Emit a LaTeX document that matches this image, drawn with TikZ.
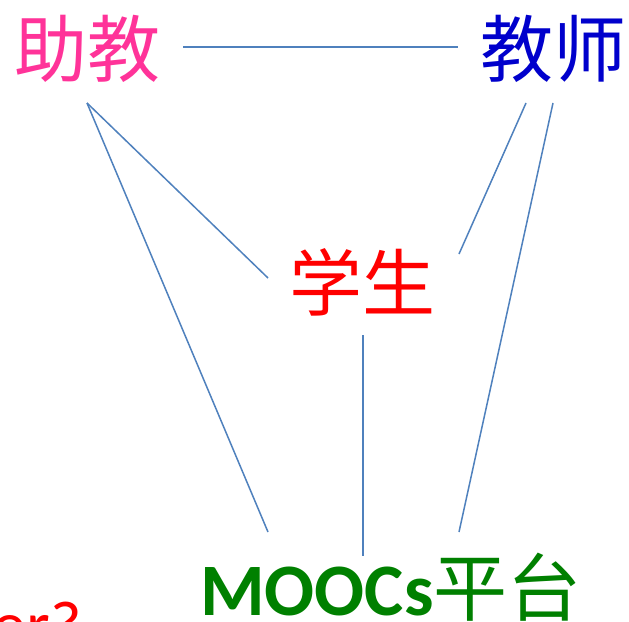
\documentclass[tikz,border=0pt]{standalone}
\usepackage{fontspec}
\setmainfont{Carlito}
\newfontfamily\cjk{Noto Sans CJK SC}
\definecolor{lnblue}{HTML}{4F81BD}
\definecolor{tpink}{HTML}{FF3399}
\definecolor{tblue}{HTML}{0000CC}
\definecolor{tred}{HTML}{FF0000}
\definecolor{tgreen}{HTML}{008000}
\tikzset{
  lbl/.style={inner sep=0pt, font=\cjk\fontsize{73}{73}\selectfont},
  link/.style={draw=lnblue, line width=1.5pt}
}
\begin{document}
\begin{tikzpicture}[x=1pt,y=-1pt]
\useasboundingbox (0,0) rectangle (629,621);
\clip (0,0) rectangle (629,621);
\fill[white] (0,0) rectangle (629,621);
\node[lbl, text=tpink] (zj) at (87,49) {助教};
\node[lbl, text=tblue] (js) at (553,49) {教师};
\node[lbl, text=tred] (xs) at (362,282) {学生};
\node[inner sep=0pt, anchor=base west, text=tgreen] (mp) at (200,615)
  {\fontsize{74}{74}\selectfont{\bfseries MOOCs}{\cjk\mdseries 平台}};
\node[inner sep=0pt, anchor=base east, text=tred] (er) at (82,648)
  {\fontsize{68}{68}\selectfont er?};
\coordinate (zjR) at (183,47);
\coordinate (jsL) at (458,47);
\coordinate (zjB) at (87,103);
\coordinate (jsB1) at (526,103);
\coordinate (jsB2) at (553,103);
\coordinate (xsL) at (268,278);
\coordinate (xsR) at (459,254);
\coordinate (xsB) at (363,335);
\coordinate (mpL) at (268,532);
\coordinate (mpM) at (363,556);
\coordinate (mpR) at (459,532);
\draw[link] (zjR) -- (jsL);
\draw[link] (zjB) -- (xsL);
\draw[link] (zjB) -- (mpL);
\draw[link] (jsB1) -- (xsR);
\draw[link] (jsB2) -- (mpR);
\draw[link] (xsB) -- (mpM);
\end{tikzpicture}
\end{document}
